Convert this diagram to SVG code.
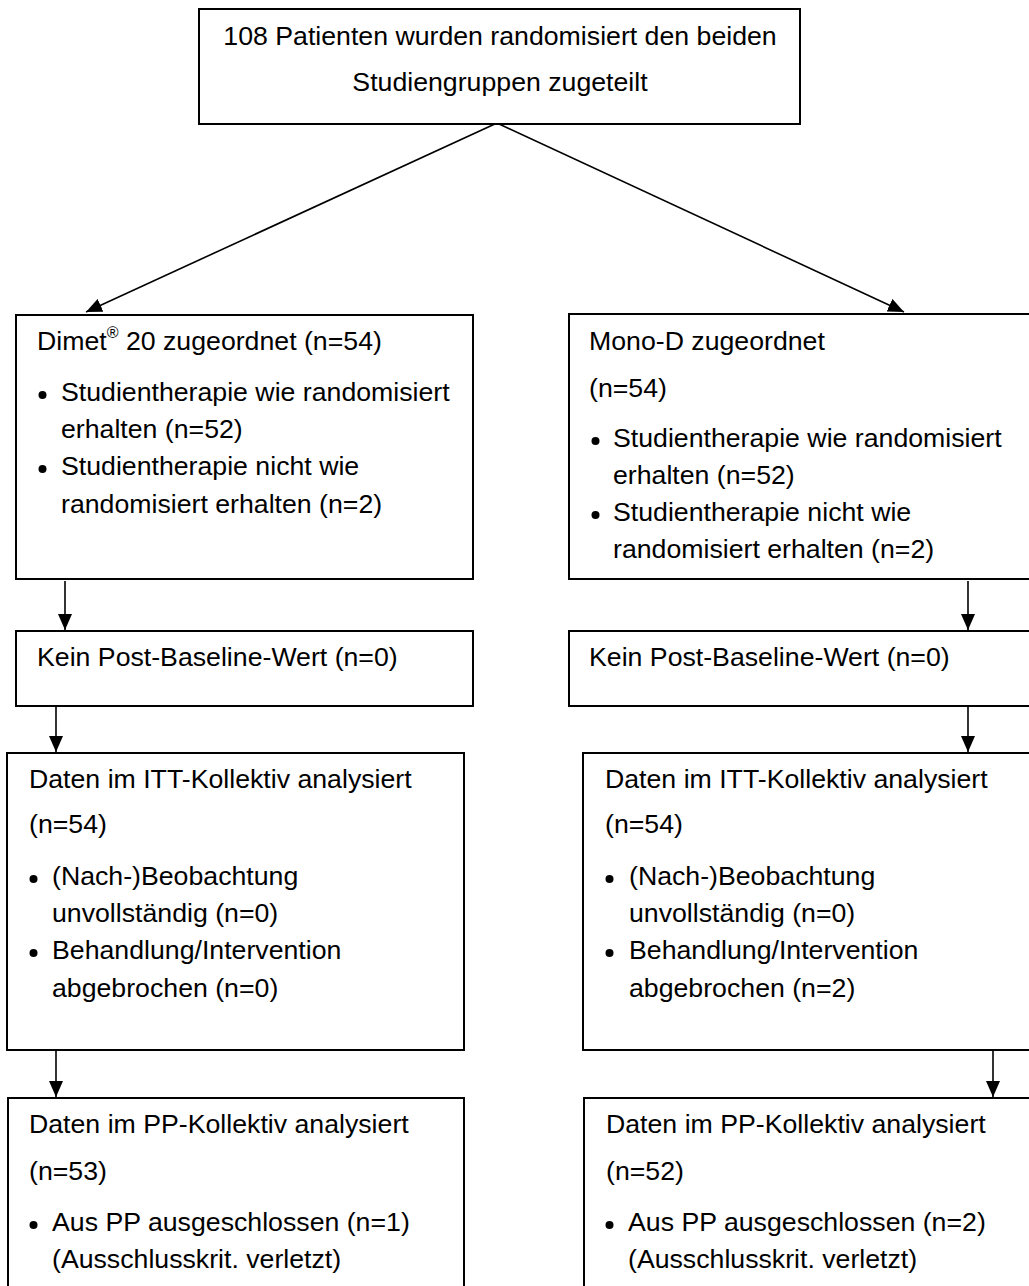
<svg xmlns="http://www.w3.org/2000/svg" width="1029" height="1286" viewBox="0 0 1029 1286">
<style>
  .box { fill: #ffffff; stroke: #000000; stroke-width: 2; }
  .t { font-family: "Liberation Sans", Arial, sans-serif; font-size: 26.7px; fill: #000000; }
  .c { text-anchor: middle; }
  .dot { fill: #000000; }
  .conn { stroke: #000000; stroke-width: 1.6; fill: none; marker-end: url(#arr); }
</style>
<defs>
  <marker id="arr" viewBox="0 0 16 14" refX="16" refY="7" markerWidth="16" markerHeight="14" markerUnits="userSpaceOnUse" orient="auto">
    <path d="M0,0 L16,7 L0,14 z" fill="#000000"/>
  </marker>
</defs>
<rect x="0" y="0" width="1029" height="1286" fill="#ffffff"/>

<g id="connectors">
  <line class="conn" x1="497" y1="123" x2="86" y2="312"/>
  <line class="conn" x1="497" y1="123" x2="904" y2="312"/>
  <line class="conn" x1="65" y1="581" x2="65" y2="630"/>
  <line class="conn" x1="56" y1="707" x2="56" y2="752"/>
  <line class="conn" x1="56" y1="1051" x2="56" y2="1097"/>
  <line class="conn" x1="968" y1="581" x2="968" y2="630"/>
  <line class="conn" x1="968" y1="707" x2="968" y2="752"/>
  <line class="conn" x1="993" y1="1051" x2="993" y2="1097"/>
</g>

<g id="randomisation">
  <rect class="box" x="199" y="9" width="601" height="115"/>
  <text class="t c" x="500" y="45">108 Patienten wurden randomisiert den beiden</text>
  <text class="t c" x="500" y="91">Studiengruppen zugeteilt</text>
</g>

<g id="dimet-allocated">
  <rect class="box" x="16" y="315" width="457" height="264"/>
  <text class="t" x="37" y="350">Dimet<tspan font-size="16" dy="-12">®</tspan><tspan dy="12"> 20 zugeordnet (n=54)</tspan></text>
  <circle class="dot" cx="42.5" cy="395" r="4"/>
  <text class="t" x="61" y="401">Studientherapie wie randomisiert</text>
  <text class="t" x="61" y="438">erhalten (n=52)</text>
  <circle class="dot" cx="42.5" cy="469" r="4"/>
  <text class="t" x="61" y="475">Studientherapie nicht wie</text>
  <text class="t" x="61" y="513">randomisiert erhalten (n=2)</text>
</g>

<g id="monod-allocated">
  <rect class="box" x="569" y="314" width="470" height="265"/>
  <text class="t" x="589" y="350">Mono-D zugeordnet</text>
  <text class="t" x="589" y="397">(n=54)</text>
  <circle class="dot" cx="595.5" cy="441" r="4"/>
  <text class="t" x="613" y="447">Studientherapie wie randomisiert</text>
  <text class="t" x="613" y="484">erhalten (n=52)</text>
  <circle class="dot" cx="595.5" cy="515" r="4"/>
  <text class="t" x="613" y="521">Studientherapie nicht wie</text>
  <text class="t" x="613" y="558">randomisiert erhalten (n=2)</text>
</g>

<g id="dimet-baseline">
  <rect class="box" x="16" y="631" width="457" height="75"/>
  <text class="t" x="37" y="666">Kein Post-Baseline-Wert (n=0)</text>
</g>

<g id="monod-baseline">
  <rect class="box" x="569" y="631" width="470" height="75"/>
  <text class="t" x="589" y="666">Kein Post-Baseline-Wert (n=0)</text>
</g>

<g id="dimet-itt">
  <rect class="box" x="7" y="753" width="457" height="297"/>
  <text class="t" x="29" y="788">Daten im ITT-Kollektiv analysiert</text>
  <text class="t" x="29" y="833">(n=54)</text>
  <circle class="dot" cx="33.5" cy="879" r="4"/>
  <text class="t" x="52" y="885">(Nach-)Beobachtung</text>
  <text class="t" x="52" y="922">unvollständig (n=0)</text>
  <circle class="dot" cx="33.5" cy="953" r="4"/>
  <text class="t" x="52" y="959">Behandlung/Intervention</text>
  <text class="t" x="52" y="997">abgebrochen (n=0)</text>
</g>

<g id="monod-itt">
  <rect class="box" x="583" y="753" width="456" height="297"/>
  <text class="t" x="605" y="788">Daten im ITT-Kollektiv analysiert</text>
  <text class="t" x="605" y="833">(n=54)</text>
  <circle class="dot" cx="609.5" cy="879" r="4"/>
  <text class="t" x="629" y="885">(Nach-)Beobachtung</text>
  <text class="t" x="629" y="922">unvollständig (n=0)</text>
  <circle class="dot" cx="609.5" cy="953" r="4"/>
  <text class="t" x="629" y="959">Behandlung/Intervention</text>
  <text class="t" x="629" y="997">abgebrochen (n=2)</text>
</g>

<g id="dimet-pp">
  <rect class="box" x="8" y="1098" width="456" height="200"/>
  <text class="t" x="29" y="1133">Daten im PP-Kollektiv analysiert</text>
  <text class="t" x="29" y="1180">(n=53)</text>
  <circle class="dot" cx="33.5" cy="1225" r="4"/>
  <text class="t" x="52" y="1231">Aus PP ausgeschlossen (n=1)</text>
  <text class="t" x="52" y="1268">(Ausschlusskrit. verletzt)</text>
</g>

<g id="monod-pp">
  <rect class="box" x="584" y="1098" width="455" height="200"/>
  <text class="t" x="606" y="1133">Daten im PP-Kollektiv analysiert</text>
  <text class="t" x="606" y="1180">(n=52)</text>
  <circle class="dot" cx="609.5" cy="1225" r="4"/>
  <text class="t" x="628" y="1231">Aus PP ausgeschlossen (n=2)</text>
  <text class="t" x="628" y="1268">(Ausschlusskrit. verletzt)</text>
</g>
</svg>
